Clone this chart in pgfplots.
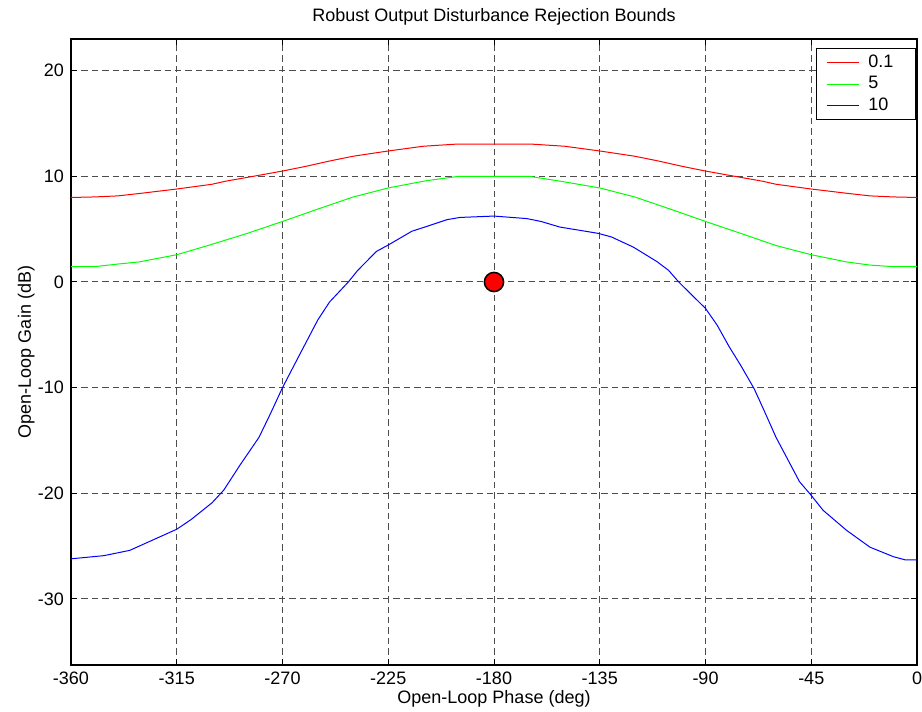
\documentclass[border=0pt]{standalone}
\usepackage{fontspec}
\setmainfont{Liberation Sans}
\usepackage{pgfplots}
\pgfplotsset{compat=1.18}
\begin{document}
\begin{tikzpicture}
\begin{axis}[
  scale only axis,
  width=423pt, height=313pt,
  xmin=-360, xmax=0, ymin=-36.25, ymax=23,
  xtick={-360,-315,-270,-225,-180,-135,-90,-45,0},
  ytick={-30,-20,-10,0,10,20},
  tick pos=both, tick align=inside,
  major tick length=3pt,
  tick style={black, line width=0.5pt},
  axis line style={black, line width=0.6pt},
  /pgf/number format/assume math mode=true,
  ticklabel style={font=\fontsize{9}{10.8}\selectfont},
  grid=major,
  major grid style={black!70, line width=0.5pt, dash pattern=on 3.2pt off 2pt},
  title={Robust Output Disturbance Rejection Bounds},
  every axis title shift=0pt,
  title style={font=\fontsize{9}{10.8}\selectfont, at={(axis description cs:0.5,1)}, anchor=center, yshift=11pt},
  xlabel={Open-Loop Phase (deg)},
  xlabel style={font=\fontsize{9}{10.8}\selectfont, at={(axis description cs:0.5,0)}, anchor=center, yshift=-17pt},
  ylabel={Open-Loop Gain (dB)},
  ylabel style={font=\fontsize{9}{10.8}\selectfont, at={(axis description cs:-0.053,0.5)}, anchor=center},
  legend style={font=\fontsize{9}{10.8}\selectfont, at={(axis description cs:0.9985,0.985)}, anchor=north east,
    draw=black, line width=0.5pt, inner xsep=0pt, inner ysep=1pt, row sep=-1pt,
    cells={anchor=west}},
  legend image code/.code={\path[draw=none] (-5pt,0pt) -- (18.85pt,0pt); \draw[#1, line width=0.6pt] (0pt,0pt) -- (16pt,0pt);},
  legend cell align=left,
]
\addplot[red, line width=0.5pt] table {
-360 8.0
-350 8.05
-340 8.15
-330 8.4
-315 8.8
-300 9.25
-294 9.55
-285 9.9
-270 10.5
-260 10.95
-250 11.45
-240 11.9
-225 12.4
-210 12.85
-196 13.05
-180 13.05
-164 13.05
-150 12.85
-135 12.4
-120 11.9
-110 11.45
-100 10.95
-90 10.5
-75 9.9
-66 9.55
-60 9.25
-45 8.8
-30 8.4
-20 8.15
-10 8.05
0 8.0
};
\addlegendentry{\makebox[21.5pt][l]{0.1}}
\addplot[green, line width=0.5pt] table {
-360 1.45
-350 1.45
-340 1.7
-331 1.9
-315 2.58
-301 3.5
-285 4.6
-270 5.73
-255 6.9
-240 8.04
-225 8.9
-209 9.58
-195 10.0
-180 10.0
-165 10.0
-152 9.55
-135 8.9
-120 8.04
-105 6.9
-90 5.73
-75 4.6
-60 3.45
-45 2.58
-30 1.9
-20 1.6
-10 1.45
0 1.45
};
\addlegendentry{\makebox[21.5pt][l]{5}}
\addplot[blue, line width=0.5pt] table {
-360 -26.2
-346 -25.9
-335 -25.4
-325 -24.4
-315 -23.4
-309 -22.5
-300 -20.9
-295 -19.7
-288 -17.3
-280 -14.7
-275 -12.4
-270 -10.0
-263 -7.0
-255 -3.6
-250 -1.9
-242 0
-238 1.1
-230 2.9
-225 3.5
-215 4.8
-208.6 5.26
-200 5.9
-194.5 6.11
-180 6.24
-166 6.0
-160 5.73
-152 5.2
-141 4.8
-135.6 4.6
-130 4.26
-120.7 3.3
-110.8 1.95
-105.7 1.1
-101.4 0
-96.4 -1.1
-90 -2.5
-85 -4.1
-80 -6.1
-75 -7.9
-69.3 -10.1
-65 -12.2
-60 -14.7
-55 -16.8
-50 -18.9
-45 -20.2
-40 -21.6
-30 -23.5
-20 -25.1
-10 -26.0
-5 -26.3
0 -26.3
};
\addlegendentry{\makebox[21.5pt][l]{10}}
\addplot[only marks, mark=*, mark size=4.8pt, mark options={fill=red, draw=black, line width=0.75pt}, forget plot] coordinates {(-180,0)};
\coordinate (SW) at (rel axis cs:0,0);
\coordinate (NE) at (rel axis cs:1,1);
\end{axis}
\pgfresetboundingbox
\path ([shift={(-35.5pt,-23pt)}]SW) rectangle ([shift={(2.5pt,19.5pt)}]NE);
\end{tikzpicture}
\end{document}
